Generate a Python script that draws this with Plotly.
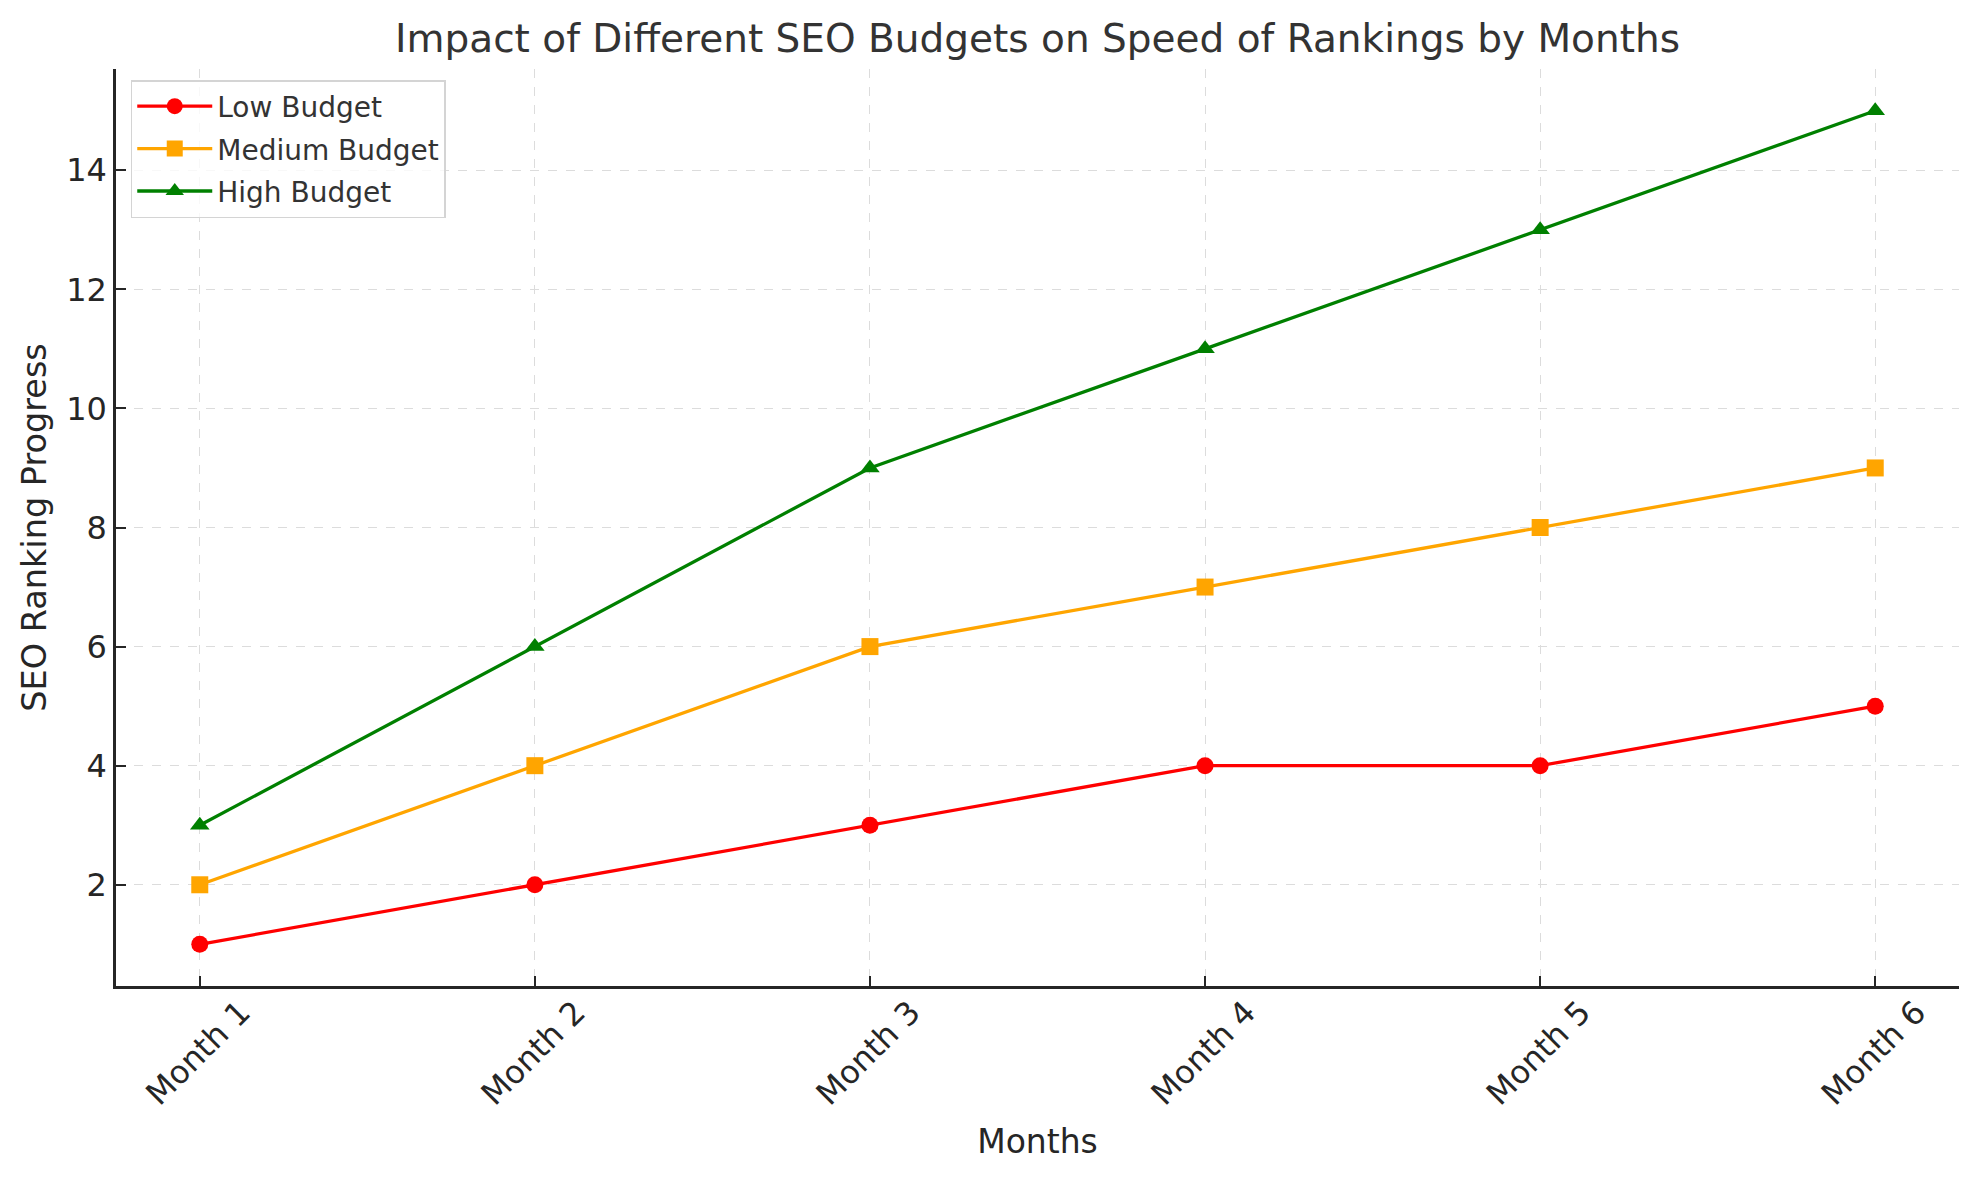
import plotly.graph_objects as go

months = ["Month 1", "Month 2", "Month 3", "Month 4", "Month 5", "Month 6"]
low_budget = [1, 2, 3, 4, 4, 5]
medium_budget = [2, 4, 6, 7, 8, 9]
high_budget = [3, 6, 9, 11, 13, 15]
y_ticks = [2, 4, 6, 8, 10, 12, 14]

series = [
    ("Low Budget", low_budget, "#ff0000", "circle"),
    ("Medium Budget", medium_budget, "#ffa500", "square"),
    ("High Budget", high_budget, "#008000", "triangle-up"),
]

FONT = "DejaVu Sans"
fig = go.Figure()
for name, vals, color, sym in series:
    fig.add_trace(go.Scatter(
        x=months, y=vals, name=name, mode="lines+markers", legendgroup=name,
        line=dict(color=color, width=3.3),
        marker=dict(color=color, symbol=sym, size=17),
    ))

fig.update_layout(
    width=1979, height=1180,
    margin=dict(l=116, r=20, t=69, b=194),
    paper_bgcolor="white", plot_bgcolor="white",
    font=dict(family=FONT, color="#262626"),
    title=dict(text="Impact of Different SEO Budgets on Speed of Rankings by Months",
               font=dict(family=FONT, size=39, color="#333333"),
               x=(116 + 1959) / 2 / 1979, xanchor="center",
               y=1 - 38 / 1180, yanchor="middle", yref="container"),
    legend=dict(x=0.008, y=0.988, xanchor="left", yanchor="top",
                bgcolor="rgba(255,255,255,0.8)", bordercolor="#d4d4d4", borderwidth=1.5,
                itemwidth=75, tracegroupgap=3, traceorder="grouped",
                font=dict(family=FONT, size=28, color="#333333")),
    showlegend=True,
)
fig.update_xaxes(
    range=[-0.25, 5.25], type="category", automargin=False,
    showline=True, linecolor="#262626", linewidth=2.5,
    ticks="inside", ticklen=10, tickwidth=2, tickcolor="#262626",
    tickangle=-45, tickfont=dict(family=FONT, size=32, color="#262626"),
    ticklabelshift=41, ticklabelstandoff=-8,
    showgrid=True, gridcolor="#dcdcdc", griddash="dash", gridwidth=1.2,
    zeroline=False,
    title=dict(text="Months", font=dict(family=FONT, size=33, color="#262626"), standoff=19),
)
fig.update_yaxes(
    range=[0.3, 15.7], tickvals=y_ticks, automargin=False,
    showline=True, linecolor="#262626", linewidth=2.5,
    ticks="inside", ticklen=10, tickwidth=2, tickcolor="#262626",
    tickfont=dict(family=FONT, size=32, color="#262626"),
    showgrid=True, gridcolor="#dcdcdc", griddash="dash", gridwidth=1.2,
    zeroline=False,
    title=dict(text="SEO Ranking Progress", font=dict(family=FONT, size=33.5, color="#262626"), standoff=10),
)
fig.write_html("out.html", config={"displayModeBar": False},
               post_script="document.body.style.margin='0';")
